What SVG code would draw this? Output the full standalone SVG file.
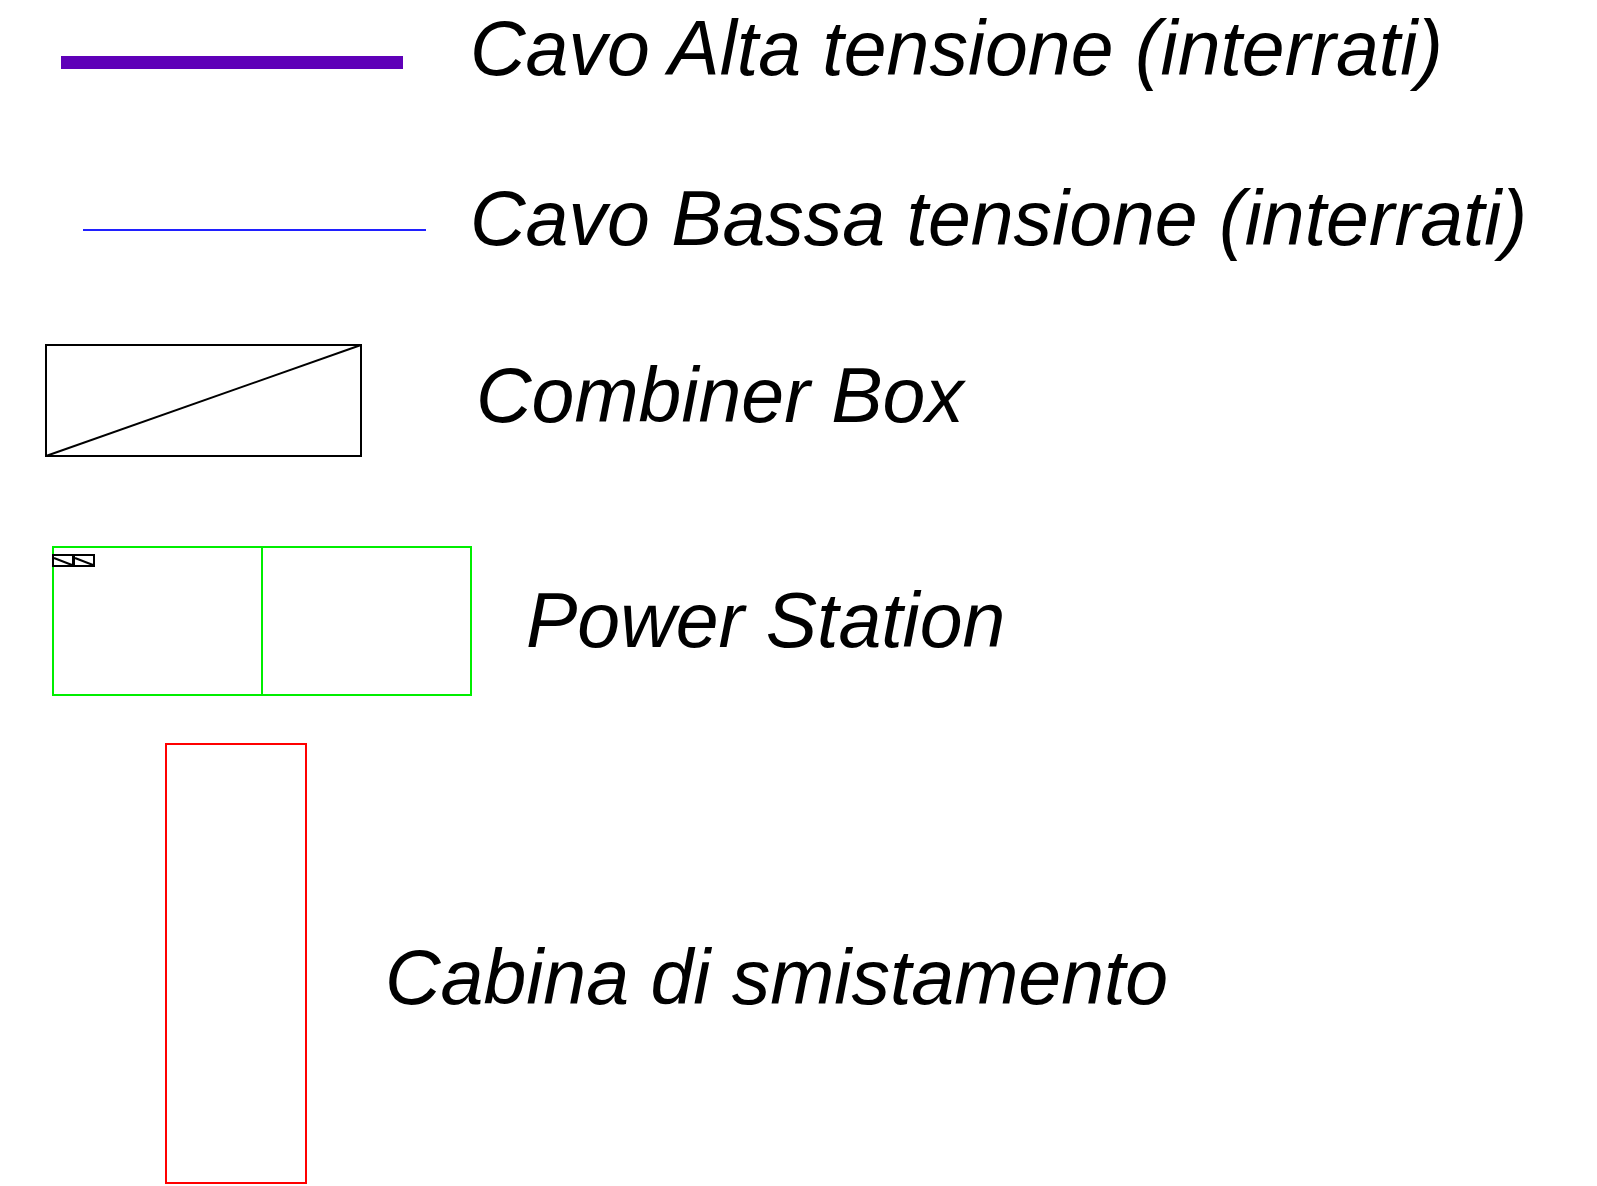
<svg xmlns="http://www.w3.org/2000/svg" width="1597" height="1186" viewBox="0 0 1597 1186">
<style>
.lbl{font-family:"Liberation Sans",Arial,sans-serif;font-style:italic;font-size:77px;fill:#000}
.cb{fill:none;stroke:#000;stroke-width:2}
.cbs{fill:none;stroke:#000;stroke-width:2}
</style>
<rect width="1597" height="1186" fill="#fff"/>
<g id="connectors">
<line id="cavo-alta" x1="61" y1="62.5" x2="403" y2="62.5" stroke="#5f00b8" stroke-width="13"/>
<line id="cavo-bassa" x1="83" y1="230" x2="426" y2="230" stroke="#2020ff" stroke-width="2"/>
</g>
<g id="combiner-box">
<rect class="cb" x="46" y="345" width="315" height="111"/>
<line class="cb" x1="46" y1="456" x2="361" y2="345"/>
</g>
<g id="power-station">
<rect x="53" y="547" width="418" height="148" fill="none" stroke="#00ee00" stroke-width="2"/>
<line x1="262" y1="547" x2="262" y2="695" stroke="#00ee00" stroke-width="2"/>
<rect class="cbs" x="53" y="555" width="20" height="11"/>
<line class="cbs" x1="54" y1="558" x2="72" y2="565"/>
<rect class="cbs" x="74" y="555" width="20" height="11"/>
<line class="cbs" x1="75" y1="558" x2="93" y2="565"/>
</g>
<g id="cabina">
<rect x="166" y="744" width="140" height="439" fill="none" stroke="#ff0000" stroke-width="2"/>
</g>
<g id="labels">
<text class="lbl" x="470" y="75">Cavo Alta tensione (interrati)</text>
<text class="lbl" x="470" y="245">Cavo Bassa tensione (interrati)</text>
<text class="lbl" x="476" y="422">Combiner Box</text>
<text class="lbl" x="526" y="647">Power Station</text>
<text class="lbl" x="385" y="1004">Cabina di smistamento</text>
</g>
</svg>
